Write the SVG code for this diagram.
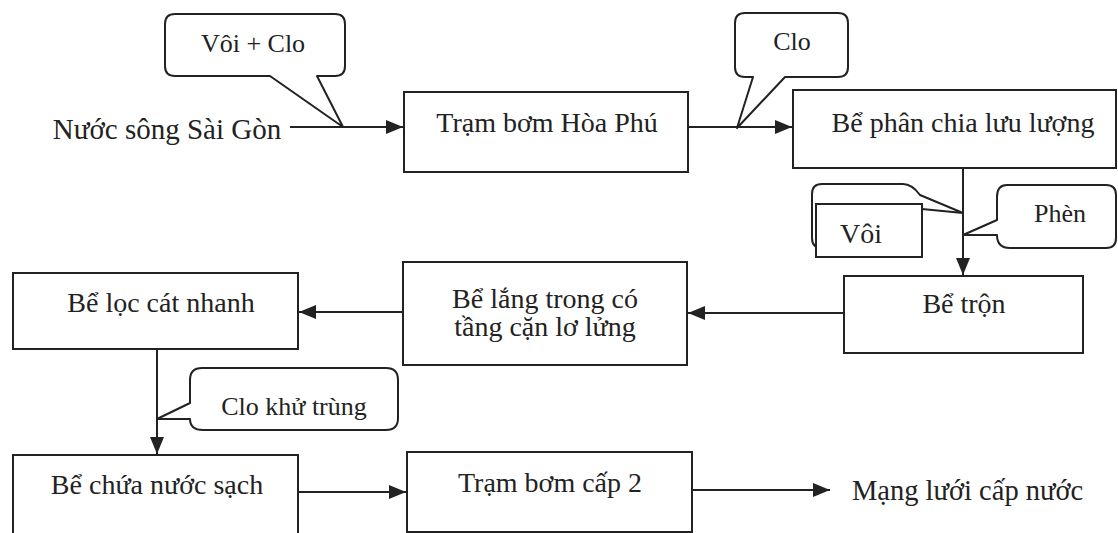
<svg xmlns="http://www.w3.org/2000/svg" width="1118" height="533" viewBox="0 0 1118 533">
<style>
.box{fill:#fff;stroke:#222;stroke-width:2}
.co{fill:#fff;stroke:#222;stroke-width:2;stroke-linejoin:round}
.ln{fill:none;stroke:#222;stroke-width:2}
text{font-family:"Liberation Serif","Times New Roman",serif;font-size:28px;fill:#222}
.c{text-anchor:middle}
.s{font-size:26px}
</style>
<defs>
<marker id="ah" viewBox="0 0 17 14" refX="17" refY="7" markerWidth="17" markerHeight="14" markerUnits="userSpaceOnUse" orient="auto">
<path d="M0,0 L17,7 L0,14 Z" fill="#222"/>
</marker>
</defs>
<rect width="1118" height="533" fill="#fff"/>

<g id="connectors">
<line class="ln" x1="290" y1="127" x2="403" y2="127" marker-end="url(#ah)"/>
<line class="ln" x1="688" y1="127" x2="792" y2="127" marker-end="url(#ah)"/>
<line class="ln" x1="963" y1="168" x2="963" y2="275" marker-end="url(#ah)"/>
<line class="ln" x1="844" y1="313" x2="688" y2="313" marker-end="url(#ah)"/>
<line class="ln" x1="403" y1="312" x2="299" y2="312" marker-end="url(#ah)"/>
<line class="ln" x1="157" y1="349" x2="157" y2="454" marker-end="url(#ah)"/>
<line class="ln" x1="298" y1="492" x2="406" y2="492" marker-end="url(#ah)"/>
<line class="ln" x1="692" y1="490" x2="830" y2="490" marker-end="url(#ah)"/>
</g>

<g id="src">
<text class="c" x="167" y="139" style="font-size:29px">Nước sông Sài Gòn</text>
</g>

<g id="callout-voi-clo">
<path class="co" d="M175,14 H335 Q345,14 345,24 V66 Q345,76 335,76 H317 L343,127 L270,76 H175 Q165,76 165,66 V24 Q165,14 175,14 Z"/>
<text class="c s" x="253" y="52">Vôi + Clo</text>
</g>

<g id="tram-bom-hoa-phu">
<rect class="box" x="404" y="92" width="284" height="80"/>
<text class="c" x="547" y="132">Trạm bơm Hòa Phú</text>
</g>

<g id="callout-clo">
<path class="co" d="M745,13 H838 Q848,13 848,23 V67 Q848,77 838,77 H785 L737,128 L753,77 H745 Q735,77 735,67 V23 Q735,13 745,13 Z"/>
<text class="c s" x="792" y="50">Clo</text>
</g>

<g id="be-phan-chia">
<rect class="box" x="793" y="90" width="323" height="78"/>
<text class="c" x="963" y="132">Bể phân chia lưu lượng</text>
</g>

<g id="callout-voi">
<path class="co" d="M822,184 H903 Q912,184 920,195 L963,213 L922,209 V248 H822 Q812,248 812,238 V194 Q812,184 822,184 Z"/>
<rect class="box" x="816" y="204" width="106" height="53"/>
<text class="c" x="861" y="243">Vôi</text>
</g>

<g id="callout-phen">
<path class="co" d="M1007,185 H1106 Q1116,185 1116,195 V238 Q1116,248 1106,248 H1010 Q997,248 997,235 H963 L997,220 V197 Q997,185 1007,185 Z"/>
<text class="c s" x="1060" y="222">Phèn</text>
</g>

<g id="be-tron">
<rect class="box" x="844" y="276" width="239" height="77"/>
<text class="c" x="964" y="313">Bể trộn</text>
</g>

<g id="be-lang">
<rect class="box" x="403" y="262" width="284" height="103"/>
<text class="c" x="545" y="308">Bể lắng trong có</text>
<text class="c" x="545" y="336">tầng cặn lơ lửng</text>
</g>

<g id="be-loc">
<rect class="box" x="13" y="273" width="285" height="76"/>
<text class="c" x="161" y="312">Bể lọc cát nhanh</text>
</g>

<g id="callout-clo-khu-trung">
<path class="co" d="M202,368 H386 Q398,368 398,380 V418 Q398,430 386,430 H203 Q190,430 190,419 H157 L190,403 V380 Q190,368 202,368 Z"/>
<text class="c s" x="294" y="415">Clo khử trùng</text>
</g>

<g id="be-chua">
<rect class="box" x="13" y="455" width="285" height="90"/>
<text class="c" x="157" y="494">Bể chứa nước sạch</text>
</g>

<g id="tram-bom-cap-2">
<rect class="box" x="407" y="452" width="285" height="80"/>
<text class="c" x="550" y="492">Trạm bơm cấp 2</text>
</g>

<g id="mang-luoi">
<text x="852" y="500" style="font-size:28.5px">Mạng lưới cấp nước</text>
</g>
</svg>
